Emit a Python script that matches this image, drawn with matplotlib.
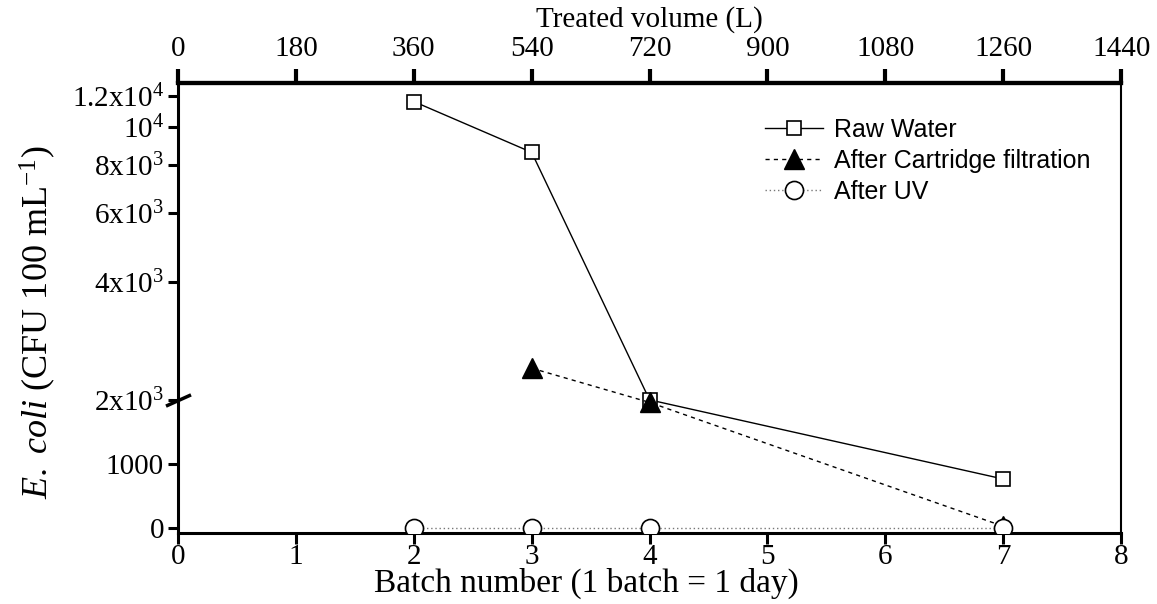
import numpy as np
import matplotlib
matplotlib.use("Agg")
import matplotlib.pyplot as plt
from matplotlib.ticker import FixedLocator

plt.rcParams['font.family'] = ['Liberation Serif', 'DejaVu Serif']
plt.rcParams['mathtext.fontset'] = 'custom'
plt.rcParams['mathtext.rm'] = 'Liberation Serif'
plt.rcParams['mathtext.it'] = 'Liberation Serif:italic'

# ---- data ----
raw_batches = [2, 3, 4, 7]
raw_values = [11600, 8600, 2000, 760]
cart_batches = [3, 4, 7]
cart_values = [2410, 1960, 20]
uv_batches = [2, 3, 4, 7]
uv_values = [0, 0, 0, 0]

ytick_values = [0, 1000, 2000, 4000, 6000, 8000, 10000, 12000]
ytick_labels = ['0', '1000', r'2x10$^3$', r'4x10$^3$', r'6x10$^3$', r'8x10$^3$',
                r'10$^4$', r'1.2x10$^4$']
xtick_values = [0, 1, 2, 3, 4, 5, 6, 7, 8]
top_tick_values = [0, 180, 360, 540, 720, 900, 1080, 1260, 1440]
litres_per_batch = 180

# ---- broken linear/log scale ----
BREAK = 2000.0
K = 6.12  # units per decade above break (1 unit = 1000 below break)

def fwd(y):
    y = np.asarray(y, dtype=float)
    lin = y / 1000.0
    lg = 2.0 + K * np.log10(np.maximum(y, BREAK) / BREAK)
    return np.where(y <= BREAK, lin, lg)

def inv(u):
    u = np.asarray(u, dtype=float)
    lin = u * 1000.0
    lg = BREAK * 10 ** ((np.maximum(u, 2.0) - 2.0) / K)
    return np.where(u <= 2.0, lin, lg)

fig = plt.figure(figsize=(11.57, 6.04), dpi=100)
ax = fig.add_axes([0.1538, 0.1175, 0.969 - 0.1538, 0.8626 - 0.1175])
ax.set_yscale('function', functions=(fwd, inv))

ax.plot(raw_batches, raw_values, color='black', lw=1.0, ls='-', marker='s',
        ms=10, mfc='white', mec='black', mew=1.2, label='Raw Water', zorder=3)
ax.plot(cart_batches, cart_values, color='black', lw=1.0, ls=(0, (3, 3)), marker='^',
        ms=14, mfc='black', mec='black', label='After Cartridge filtration', zorder=4)
ax.plot(uv_batches, uv_values, color='#777777', lw=1.0, ls=(0, (1, 2)), marker='o',
        ms=13, mfc='white', mec='black', mew=1.2, label='After UV', zorder=5)

ax.set_xlim(0, 8)
ax.set_ylim(-86, 12940)
ax.set_yticks(ytick_values)
ax.set_yticklabels(ytick_labels)
ax.yaxis.set_minor_locator(FixedLocator([]))
ax.set_xticks(xtick_values)

for s in ['left', 'bottom']:
    ax.spines[s].set_linewidth(2.2)
ax.spines['top'].set_linewidth(3.0)
ax.spines['right'].set_linewidth(1.5)

ax.tick_params(axis='y', direction='out', length=7, width=2.2, labelsize=21, pad=3)
ax.tick_params(axis='x', direction='out', length=8, width=2.2, labelsize=21, pad=0)
ax.tick_params(which='minor', length=0)

ax.set_xlabel('Batch number (1 batch = 1 day)', fontsize=24, labelpad=-1.5)
ax.xaxis.label.set_x(0.433)
ax.set_ylabel(r'$\it{E.\ coli}$ (CFU 100 mL$^{-1}$)', fontsize=26, labelpad=10)
ax.yaxis.label.set_y(0.469)

top = ax.secondary_xaxis('top', functions=(lambda b: b * litres_per_batch,
                                           lambda v: v / litres_per_batch))
top.set_xticks(top_tick_values)
top.tick_params(direction='out', length=10, width=3, labelsize=21, pad=5)
top.spines['top'].set_linewidth(3.0)
top.set_xlabel('Treated volume (L)', fontsize=21, labelpad=7)

# axis break marker on left spine
ax.plot([0], [BREAK], marker=[(-1, -0.45), (1, 0.45)], ms=18, mew=2.5,
        color='black', clip_on=False, zorder=6, ls='none')

leg = ax.legend(loc='upper left', bbox_to_anchor=(0.6225, 0.922), frameon=False,
                prop={'family': 'Liberation Sans', 'size': 18},
                handlelength=2.3, handletextpad=0.45, labelspacing=0.28,
                borderaxespad=0, borderpad=0)

fig.savefig('out.png', dpi=100)
